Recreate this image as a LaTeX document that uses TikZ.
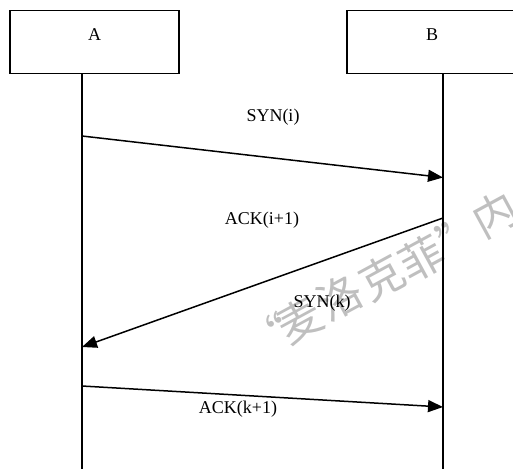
\documentclass[tikz,border=0pt]{standalone}
\usepackage{fontspec}
\setmainfont{Liberation Serif}
\newfontfamily\cjk{Noto Sans CJK SC}
\usetikzlibrary{arrows.meta}

\begin{document}
\begin{tikzpicture}[x=1pt,y=-1pt, every node/.style={font=\fontsize{18}{20}\selectfont},
    party/.style={draw,line width=1.5pt,minimum width=169pt,minimum height=63pt,inner sep=0pt},
    life/.style={line width=1.5pt},
    msg/.style={line width=1.5pt,-{Triangle[length=15pt,width=12pt]}},
    wmark/.style={text=black!25,font=\cjk\fontsize{44}{46}\selectfont,rotate=28.5,inner sep=0pt}]
    \useasboundingbox (0,0) rectangle (513,468);
    \clip (0,0) rectangle (513,468);
    % watermark
    \foreach \ch/\px/\py [count=\i] in {“/268/337,麦/300/320,洛/340/297,克/382/277,菲/422/258,”/460/235,内/495/214}
      \node[wmark] (wm\i) at (\px,\py) {\ch};
    % parties
    \node[party] (boxA) at (94.5,42) {};
    \node[party] (boxB) at (431.5,42) {};
    \node (nameA) at (94.5,35) {A};
    \node (nameB) at (432,35) {B};
    % lifelines
    \coordinate (topA) at (82,73.5);
    \coordinate (endA) at (82,470);
    \coordinate (topB) at (443,73.5);
    \coordinate (endB) at (443,470);
    \draw[life] (topA) -- (endA);
    \draw[life] (topB) -- (endB);
    % messages
    \coordinate (s1) at (82,136);
    \coordinate (t1) at (443,177.5);
    \coordinate (s2) at (443,218);
    \coordinate (t2) at (82,347);
    \coordinate (s3) at (82,386);
    \coordinate (t3) at (443,407);
    \draw[msg] (s1) -- (t1);
    \draw[msg] (s2) -- (t2);
    \draw[msg] (s3) -- (t3);
    \node (syni) at (273,117) {SYN(i)};
    \node (acki) at (262,220) {ACK(i+1)};
    \node (synk) at (322,303) {SYN(k)};
    \node (ackk) at (238,409) {ACK(k+1)};
\end{tikzpicture}
\end{document}
